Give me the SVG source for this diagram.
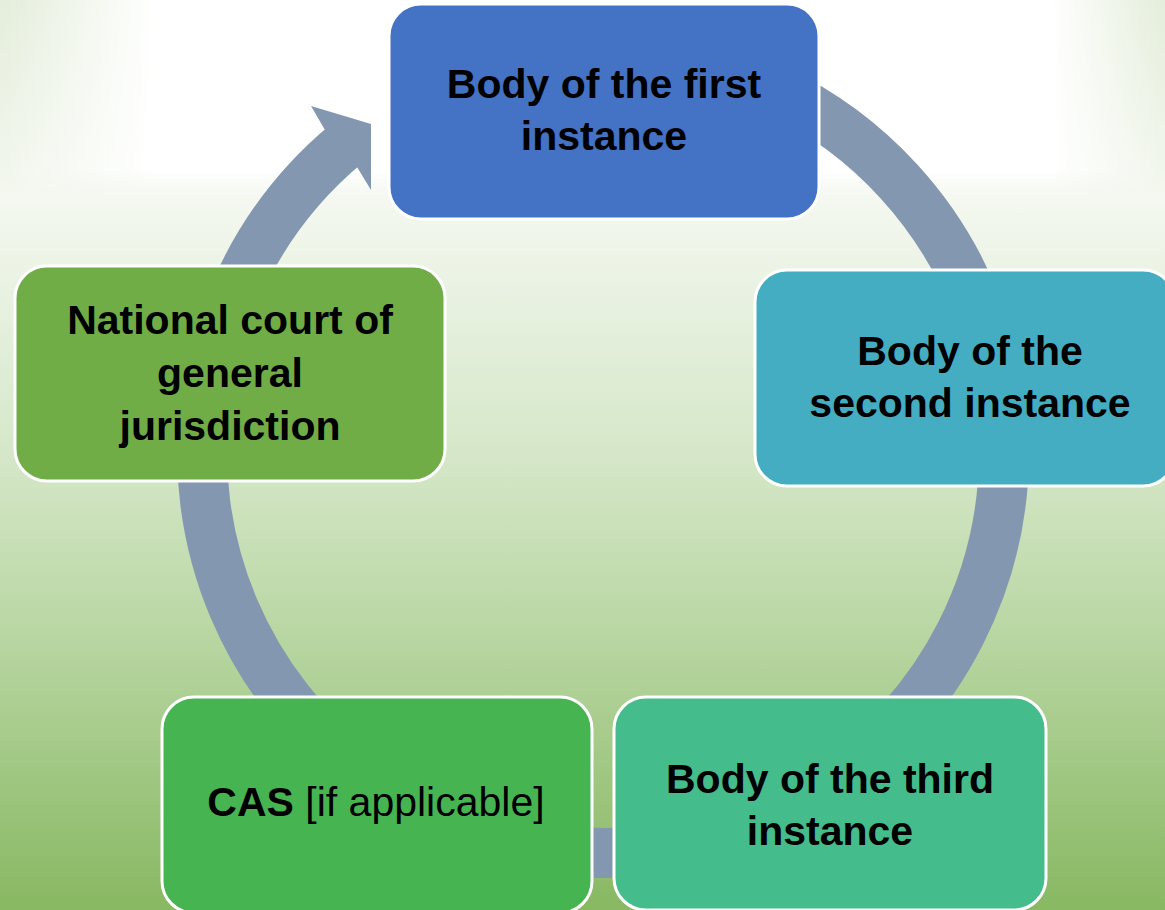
<svg xmlns="http://www.w3.org/2000/svg" width="1165" height="910" viewBox="0 0 1165 910">
  <defs>
    <linearGradient id="bgV" x1="0" y1="0" x2="0" y2="1">
      <stop offset="0" stop-color="#e4eedb"/>
      <stop offset="0.22" stop-color="#f4f8f0"/>
      <stop offset="0.5" stop-color="#d5e7c8"/>
      <stop offset="0.7" stop-color="#b8d6a2"/>
      <stop offset="1" stop-color="#88b862"/>
    </linearGradient>
    <linearGradient id="bgH" x1="0" y1="0" x2="1165" y2="0" gradientUnits="userSpaceOnUse">
      <stop offset="0" stop-color="#ffffff" stop-opacity="0"/>
      <stop offset="0.135" stop-color="#ffffff" stop-opacity="1"/>
      <stop offset="0.9" stop-color="#ffffff" stop-opacity="1"/>
      <stop offset="1" stop-color="#ffffff" stop-opacity="0"/>
    </linearGradient>
    <linearGradient id="bgFade" x1="0" y1="0" x2="0" y2="1">
      <stop offset="0" stop-color="#ffffff" stop-opacity="1"/>
      <stop offset="0.85" stop-color="#ffffff" stop-opacity="1"/>
      <stop offset="1" stop-color="#ffffff" stop-opacity="0"/>
    </linearGradient>
    <mask id="fadeMask">
      <rect x="0" y="0" width="1165" height="200" fill="url(#bgFade)"/>
    </mask>
  </defs>
  <style>
    .box { stroke: #ffffff; stroke-width: 3; }
    .lbl { font-family: "Liberation Sans", Arial, sans-serif; font-size: 41px; font-weight: bold; fill: #000000; text-anchor: middle; }
    .reg { font-weight: normal; }
    .ring { fill: none; stroke: #8497b0; stroke-width: 50; }
    .head { fill: #8497b0; }
  </style>

  <rect x="0" y="0" width="1165" height="910" fill="url(#bgV)"/>
  <rect x="0" y="0" width="1165" height="200" fill="url(#bgH)" mask="url(#fadeMask)"/>

  <g id="connectors">
    <path class="ring" d="M 637.9 52.5 A 401 401 0 0 1 1004 452 A 401 401 0 1 1 346.3 143.9"/>
    <polygon class="head" points="324.7,129.5 311,106 371,124 371,190 357.3,167.4"/>
  </g>

  <g id="node-first">
    <rect class="box" x="389" y="4" width="430" height="215" rx="32" fill="#4472c4"/>
    <text class="lbl" x="604" y="98">Body of the first</text>
    <text class="lbl" x="604" y="150">instance</text>
  </g>

  <g id="node-second">
    <rect class="box" x="755" y="270" width="420" height="216" rx="32" fill="#44adc2"/>
    <text class="lbl" x="970" y="365">Body of the</text>
    <text class="lbl" x="970" y="417">second instance</text>
  </g>

  <g id="node-third">
    <rect class="box" x="614" y="697" width="432" height="213" rx="32" fill="#44bc8c"/>
    <text class="lbl" x="830" y="793">Body of the third</text>
    <text class="lbl" x="830" y="845">instance</text>
  </g>

  <g id="node-cas">
    <rect class="box" x="162" y="697" width="430" height="216" rx="32" fill="#47b452"/>
    <text class="lbl" x="376" y="816">CAS<tspan class="reg"> [if applicable]</tspan></text>
  </g>

  <g id="node-national">
    <rect class="box" x="15" y="266" width="430" height="215" rx="32" fill="#70ad47"/>
    <text class="lbl" x="230" y="334">National court of</text>
    <text class="lbl" x="230" y="387">general</text>
    <text class="lbl" x="230" y="440">jurisdiction</text>
  </g>
</svg>
